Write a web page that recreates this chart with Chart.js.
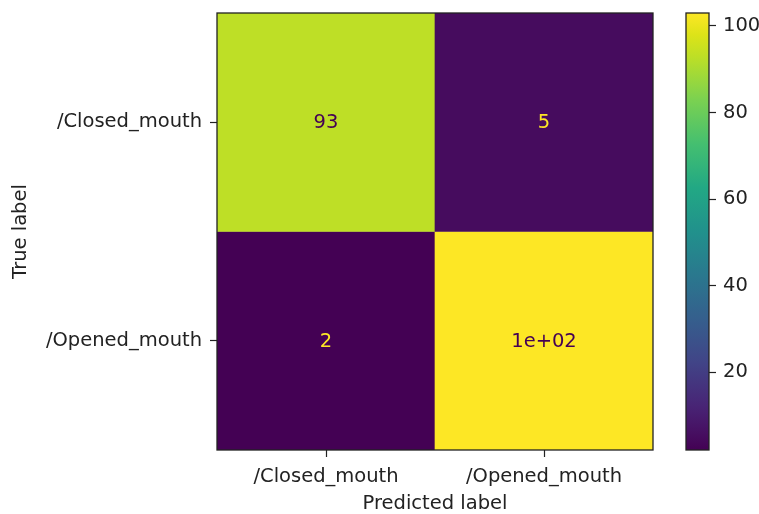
<!DOCTYPE html>
<html>
<head>
<meta charset="utf-8">
<script src="https://cdn.jsdelivr.net/npm/chart.js@4/dist/chart.umd.min.js"></script>
<style>
  html, body { margin: 0; padding: 0; background: #fff; }
  #wrap { position: relative; width: 759px; height: 514px; overflow: hidden; }
  canvas { position: absolute; top: 0; }
  #cm { left: 0; }
  #cb { left: 680px; }
</style>
</head>
<body>
<div id="wrap">
  <canvas id="cm" width="680" height="514"></canvas>
  <canvas id="cb" width="79" height="514"></canvas>
</div>
<script>
// Confusion matrix counts (rows = true label, columns = predicted label)
const classLabels = ['/Closed_mouth', '/Opened_mouth'];
const rowClosed = [93, 5];
const rowOpened = [2, 103];
const colorbarTicks = [20, 40, 60, 80, 100];

const matrix = [rowClosed, rowOpened];
const allCounts = matrix.flat();
const vmin = Math.min(...allCounts);
const vmax = Math.max(...allCounts);

// viridis colormap stops
const VIRIDIS = [
  [0.00, [68, 1, 84]], [0.05, [71, 19, 101]], [0.10, [72, 36, 117]],
  [0.20, [65, 68, 135]], [0.30, [53, 95, 141]], [0.40, [42, 120, 142]],
  [0.50, [33, 145, 140]], [0.60, [34, 168, 132]], [0.70, [68, 191, 112]],
  [0.80, [122, 209, 81]], [0.90, [189, 223, 38]], [0.95, [221, 227, 24]],
  [1.00, [253, 231, 37]]
];
function viridis(t) {
  t = Math.max(0, Math.min(1, t));
  for (let i = 1; i < VIRIDIS.length; i++) {
    const [t1, c1] = VIRIDIS[i];
    if (t <= t1) {
      const [t0, c0] = VIRIDIS[i - 1];
      const f = (t - t0) / (t1 - t0);
      const c = c0.map((v, k) => Math.round(v + (c1[k] - v) * f));
      return `rgb(${c[0]},${c[1]},${c[2]})`;
    }
  }
  return 'rgb(253,231,37)';
}
const norm = v => (v - vmin) / (vmax - vmin);

// Python-style '.2g' number formatting
function fmtG(v) {
  const s = v.toPrecision(2);
  if (s.includes('e')) {
    let [m, e] = s.split('e');
    if (m.includes('.')) m = m.replace(/\.?0+$/, '');
    const sign = e[0] === '-' ? '-' : '+';
    const ex = e.replace(/^[+-]/, '').padStart(2, '0');
    return m + 'e' + sign + ex;
  }
  return s.includes('.') ? s.replace(/\.?0+$/, '') : s;
}

const FONT = { family: '"DejaVu Sans", sans-serif', size: 19.5 };
const TITLE_FONT = { family: '"DejaVu Sans", sans-serif', size: 19.5, lineHeight: 1 };
const INK = '#222';
const threshold = (vmin + vmax) / 2;

// keep the plot box fixed: no extra room reserved for edge tick labels
function noEdgePadding(s) {
  s.paddingTop = 0; s.paddingBottom = 0; s.paddingLeft = 0; s.paddingRight = 0;
}

const framePlugin = {
  id: 'frame',
  afterDraw(chart) {
    const a = chart.chartArea, ctx = chart.ctx;
    ctx.save();
    ctx.strokeStyle = INK;
    ctx.lineWidth = 1.3;
    ctx.strokeRect(a.left, a.top, a.right - a.left, a.bottom - a.top);
    ctx.restore();
  }
};

const cellTextPlugin = {
  id: 'cellText',
  afterDatasetsDraw(chart) {
    const ctx = chart.ctx;
    ctx.save();
    ctx.font = `${FONT.size}px ${FONT.family}`;
    ctx.textAlign = 'center';
    ctx.textBaseline = 'middle';
    chart.data.datasets.forEach((ds, i) => {
      chart.getDatasetMeta(i).data.forEach((bar, j) => {
        const v = ds.counts[j];
        const p = bar.getProps(['x', 'y', 'base'], true);
        ctx.fillStyle = v >= threshold ? viridis(0) : viridis(1);
        ctx.fillText(fmtG(v), p.x, (p.y + p.base) / 2 + 1);
      });
    });
    ctx.restore();
  }
};

const tickGrid = {
  display: true, drawOnChartArea: false, drawTicks: true,
  tickLength: 7, tickColor: INK, tickWidth: 1.2, offset: false
};

new Chart(document.getElementById('cm'), {
  type: 'bar',
  data: {
    labels: classLabels,
    datasets: matrix.map((row, r) => ({
      data: row.map(() => [r, r + 1]),
      counts: row,
      backgroundColor: row.map(v => viridis(norm(v))),
      borderWidth: 0,
      barPercentage: 1,
      categoryPercentage: 1,
      grouped: false
    }))
  },
  options: {
    responsive: false,
    animation: false,
    devicePixelRatio: 1,
    layout: { padding: { top: 13, right: 27, left: 0, bottom: 0 } },
    plugins: { legend: { display: false }, tooltip: { enabled: false } },
    scales: {
      x: {
        type: 'category',
        offset: true,
        grid: tickGrid,
        border: { display: false },
        ticks: { font: FONT, color: INK, padding: 8, maxRotation: 0, autoSkip: false },
        title: { display: true, text: 'Predicted label', font: TITLE_FONT, color: INK, padding: { top: 0, bottom: 0 } },
        afterFit(s) { s.height = 64; noEdgePadding(s); }
      },
      y: {
        type: 'linear',
        min: 0, max: 2, reverse: true,
        afterBuildTicks(s) { s.ticks = classLabels.map((_, i) => ({ value: i + 0.5 })); },
        grid: tickGrid,
        border: { display: false },
        ticks: { font: FONT, color: INK, padding: 8, callback: v => classLabels[Math.floor(v)] },
        title: { display: true, text: 'True label', font: FONT, color: INK, padding: { top: 9, bottom: 0 } },
        afterFit(s) { s.width = 217; noEdgePadding(s); }
      }
    }
  },
  plugins: [cellTextPlugin, framePlugin]
});

// Colorbar
new Chart(document.getElementById('cb'), {
  type: 'bar',
  data: {
    labels: [''],
    datasets: [{
      data: [[vmin, vmax]],
      backgroundColor(c) {
        const y = c.chart.scales.y;
        const y0 = y ? y.getPixelForValue(vmin) : NaN;
        const y1 = y ? y.getPixelForValue(vmax) : NaN;
        if (!isFinite(y0) || !isFinite(y1) || y0 === y1) return viridis(0.5);
        const g = c.chart.ctx.createLinearGradient(0, y0, 0, y1);
        VIRIDIS.forEach(([t, col]) => g.addColorStop(t, `rgb(${col[0]},${col[1]},${col[2]})`));
        return g;
      },
      borderWidth: 0,
      barPercentage: 1,
      categoryPercentage: 1
    }]
  },
  options: {
    responsive: false,
    animation: false,
    devicePixelRatio: 1,
    layout: { padding: { top: 13, right: 0, left: 6, bottom: 64 } },
    plugins: { legend: { display: false }, tooltip: { enabled: false } },
    scales: {
      x: { display: false },
      y: {
        position: 'right',
        min: vmin, max: vmax,
        afterBuildTicks(s) { s.ticks = colorbarTicks.map(v => ({ value: v })); },
        grid: tickGrid,
        border: { display: false },
        ticks: { font: FONT, color: INK, padding: 7 },
        afterFit(s) { s.width = 50; noEdgePadding(s); }
      }
    }
  },
  plugins: [framePlugin]
});
</script>
</body>
</html>
